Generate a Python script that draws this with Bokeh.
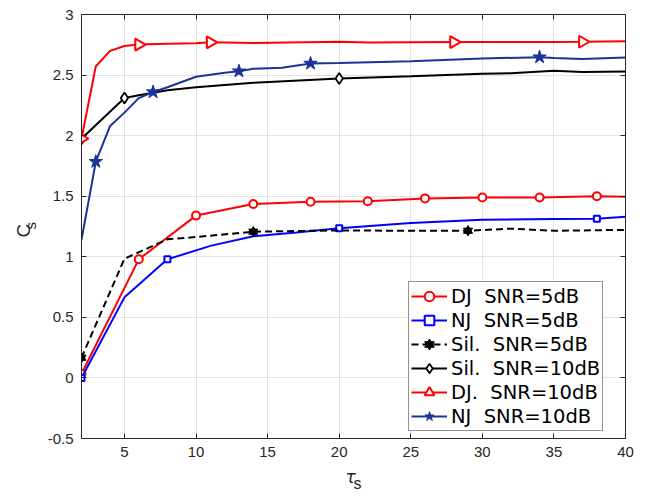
import math
from bokeh.plotting import figure
from bokeh.models import (FixedTicker, CustomJSTickFormatter, LinearAxis, Range1d,
                          Legend, LegendItem, Title)
from bokeh.embed import file_html
from bokeh.resources import INLINE

# ---------------- data ----------------
dj5_x = [2, 6, 10, 14, 18, 22, 26, 30, 34, 38, 40]
dj5_y = [0.035, 0.979, 1.34, 1.435, 1.455, 1.458, 1.482, 1.49, 1.49, 1.50, 1.496]
dj5_mk = [0, 1, 2, 3, 4, 5, 6, 7, 8, 9]

nj5_x = [2, 5, 8, 11, 14, 17, 20, 25, 30, 35, 38, 40]
nj5_y = [0.0, 0.665, 0.979, 1.09, 1.17, 1.20, 1.235, 1.278, 1.305, 1.312, 1.314, 1.33]
nj5_mk = [0, 2, 6, 10]

sil5_x = [2, 5, 8, 10, 14, 20, 25, 29, 32, 35, 40]
sil5_y = [0.167, 0.984, 1.144, 1.163, 1.207, 1.218, 1.214, 1.215, 1.232, 1.215, 1.222]
sil5_mk = [0, 4, 7]

sil10_x = [2, 5, 6, 8, 10, 14, 20, 25, 30, 32, 35, 37, 40]
sil10_y = [1.975, 2.31, 2.334, 2.375, 2.40, 2.436, 2.472, 2.49, 2.51, 2.515, 2.535, 2.525, 2.53]
sil10_mk = [0, 1, 6]

dj10_x = [2, 3, 4, 5, 6, 8, 10, 11, 14, 20, 22, 25, 28, 30, 35, 37, 40]
dj10_y = [1.975, 2.573, 2.70, 2.74, 2.752, 2.758, 2.762, 2.77, 2.765, 2.775, 2.768,
          2.77, 2.772, 2.772, 2.772, 2.775, 2.78]
dj10_mk = [0, 4, 7, 12, 15]

nj10_x = [2, 3, 4, 5, 6, 7, 8, 10, 12, 13, 14, 16, 18, 20, 25, 30, 34, 35, 37, 40]
nj10_y = [1.14, 1.785, 2.08, 2.19, 2.31, 2.36, 2.40, 2.486, 2.52, 2.532, 2.552, 2.56,
          2.596, 2.60, 2.615, 2.637, 2.648, 2.64, 2.632, 2.645]
nj10_mk = [1, 5, 9, 12, 16]

x_ticks = [5, 10, 15, 20, 25, 30, 35, 40]
y_ticks = [-0.5, 0, 0.5, 1, 1.5, 2, 2.5, 3]

labels = ["DJ  SNR=5dB", "NJ  SNR=5dB", "Sil.  SNR=5dB",
          "Sil.  SNR=10dB", "DJ.  SNR=10dB", "NJ  SNR=10dB"]

# ---------------- figure ----------------
AX = "#262626"
p = figure(width=640, height=496, output_backend="svg", toolbar_location=None,
           x_range=Range1d(2, 40), y_range=Range1d(-0.5, 3),
           min_border_left=81, min_border_right=15, min_border_top=14, min_border_bottom=58,
           background_fill_color="white", border_fill_color="white")
p.outline_line_color = None

fmt = CustomJSTickFormatter(code="return tick.toString()")
empty = CustomJSTickFormatter(code="return ''")

for ax in (p.xaxis[0], p.yaxis[0]):
    ax.major_tick_in = 5
    ax.major_tick_out = 0
    ax.minor_tick_line_color = None
    ax.axis_line_color = AX
    ax.major_tick_line_color = AX
    ax.major_label_text_color = AX
    ax.major_label_text_font = "Liberation Sans"
    ax.major_label_text_font_size = "15px"
    ax.formatter = fmt
p.xaxis[0].ticker = FixedTicker(ticks=x_ticks)
p.yaxis[0].ticker = FixedTicker(ticks=y_ticks)
p.xaxis[0].major_label_standoff = 8
p.yaxis[0].major_label_standoff = 8

top = LinearAxis(ticker=FixedTicker(ticks=x_ticks), formatter=empty)
right = LinearAxis(ticker=FixedTicker(ticks=y_ticks), formatter=empty)
for ax in (top, right):
    ax.major_tick_in = 5
    ax.major_tick_out = 0
    ax.minor_tick_line_color = None
    ax.axis_line_color = AX
    ax.major_tick_line_color = AX
    ax.major_label_text_font_size = "0px"
    ax.major_label_standoff = 0
p.add_layout(top, "above")
p.add_layout(right, "right")

p.xgrid.ticker = FixedTicker(ticks=x_ticks)
p.ygrid.ticker = FixedTicker(ticks=y_ticks)
p.grid.grid_line_color = "#e2e2e2"
p.grid.grid_line_width = 1

def sub(vals, idx):
    return [vals[i] for i in idx]

RED = "#ff0000"
BLUE = "#0000ff"
NAVY = "#1a3399"

items = []

# DJ 5dB
l = p.line(dj5_x, dj5_y, line_color=RED, line_width=2)
m = p.scatter(sub(dj5_x, dj5_mk), sub(dj5_y, dj5_mk), marker="circle", size=8,
              line_color=RED, line_width=2, fill_color="white")
items.append(LegendItem(label=labels[0], renderers=[l, m]))

# NJ 5dB
l = p.line(nj5_x, nj5_y, line_color=BLUE, line_width=2)
m = p.scatter(sub(nj5_x, nj5_mk), sub(nj5_y, nj5_mk), marker="square", size=6,
              line_color=BLUE, line_width=2, fill_color="white")
items.append(LegendItem(label=labels[1], renderers=[l, m]))

# Sil 5dB (dashed, hexagram)
l = p.line(sil5_x, sil5_y, line_color="black", line_width=2, line_dash="7 4")
m1 = p.scatter(sub(sil5_x, sil5_mk), sub(sil5_y, sil5_mk), marker="triangle", size=9,
               line_color="black", fill_color="black", line_width=1)
m2 = p.scatter(sub(sil5_x, sil5_mk), sub(sil5_y, sil5_mk), marker="inverted_triangle", size=9,
               line_color="black", fill_color="black", line_width=1)
items.append(LegendItem(label=labels[2], renderers=[l, m1, m2]))

# Sil 10dB
l = p.line(sil10_x, sil10_y, line_color="black", line_width=2)
m = p.scatter(sub(sil10_x, sil10_mk), sub(sil10_y, sil10_mk), marker="diamond", size=11,
              line_color="black", line_width=1.8, fill_color="white")
items.append(LegendItem(label=labels[3], renderers=[l, m]))

# DJ 10dB
l = p.line(dj10_x, dj10_y, line_color=RED, line_width=2)
m = p.scatter(sub(dj10_x, dj10_mk), sub(dj10_y, dj10_mk), marker="triangle", size=12,
              angle=-math.pi / 2, line_color=RED, line_width=2, fill_color="white")
items.append(LegendItem(label=labels[4], renderers=[l, m]))

# NJ 10dB
l = p.line(nj10_x, nj10_y, line_color=NAVY, line_width=2)
m = p.scatter(sub(nj10_x, nj10_mk), sub(nj10_y, nj10_mk), marker="star", size=14,
              line_color=NAVY, line_width=1, fill_color=NAVY)
items.append(LegendItem(label=labels[5], renderers=[l, m]))

legend = Legend(items=items, location=(327, 7), margin=0, padding=2, spacing=0,
                glyph_width=36, glyph_height=24, label_height=24, label_standoff=4,
                label_text_font="DejaVu Sans", label_text_font_size="19.5px",
                label_text_color="black", border_line_color=AX, border_line_width=1,
                background_fill_color="white", background_fill_alpha=1.0)
p.add_layout(legend, "center")

# axis titles: C_s (left) and tau_s (below), built from titles in the side panels
p.add_layout(Title(text="s", align="left", offset=209, standoff=12,
                   text_font="Liberation Sans", text_font_size="15px",
                   text_font_style="normal", text_color=AX), "left")
p.add_layout(Title(text="C", align="left", offset=201, standoff=-40,
                   text_font="Liberation Sans", text_font_size="19px",
                   text_font_style="normal", text_color=AX), "left")
p.add_layout(Title(text="τ", align="left", offset=264, standoff=11,
                   vertical_align="bottom",
                   text_font="DejaVu Sans", text_font_size="17px",
                   text_font_style="italic", text_color=AX), "below")
p.add_layout(Title(text="s", align="left", offset=272, standoff=-35,
                   vertical_align="top",
                   text_font="Liberation Sans", text_font_size="16px",
                   text_font_style="normal", text_color=AX), "below")

open("out.html", "w").write(file_html(p, INLINE))
